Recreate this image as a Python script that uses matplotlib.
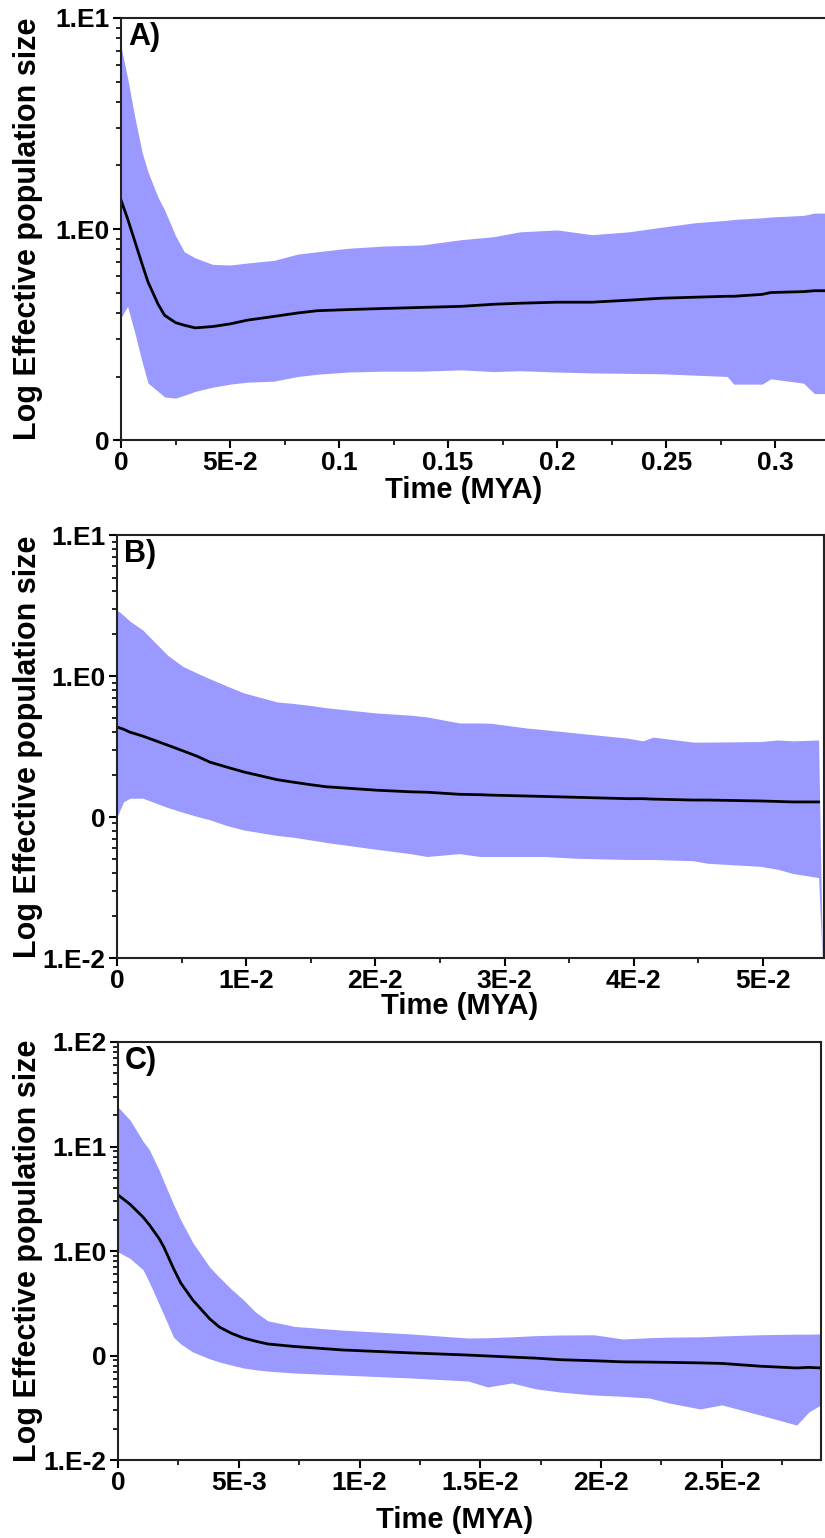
import matplotlib
matplotlib.use("Agg")
import matplotlib.pyplot as plt
from matplotlib.ticker import FixedLocator, LogLocator, NullFormatter

plt.rcParams['font.family'] = ['Liberation Sans', 'DejaVu Sans']
plt.rcParams['font.weight'] = 'bold'

# ---- panel A ----
time_a = [0, 0.003, 0.0064, 0.0097, 0.0124, 0.017, 0.02, 0.025, 0.029, 0.034,
          0.042, 0.05, 0.058, 0.07, 0.081, 0.09, 0.104, 0.12, 0.138, 0.156,
          0.171, 0.183, 0.2, 0.216, 0.233, 0.248, 0.263, 0.278, 0.281, 0.294,
          0.298, 0.313, 0.318, 0.3235]
median_a = [1.37, 1.12, 0.87, 0.68, 0.56, 0.44, 0.39, 0.36, 0.35, 0.34,
            0.345, 0.355, 0.37, 0.385, 0.40, 0.41, 0.415, 0.42, 0.425, 0.43,
            0.44, 0.445, 0.45, 0.45, 0.46, 0.47, 0.475, 0.48, 0.48, 0.49,
            0.50, 0.505, 0.51, 0.51]
upper_a = [7.3, 5.2, 3.36, 2.3, 1.86, 1.41, 1.23, 0.93, 0.78, 0.73,
           0.68, 0.675, 0.69, 0.71, 0.76, 0.78, 0.81, 0.83, 0.84, 0.89,
           0.92, 0.97, 0.99, 0.94, 0.97, 1.02, 1.07, 1.10, 1.11, 1.13,
           1.14, 1.16, 1.19, 1.19]
lower_a = [0.38, 0.43, 0.32, 0.234, 0.186, 0.17, 0.16, 0.158, 0.163, 0.17,
           0.178, 0.184, 0.188, 0.19, 0.20, 0.205, 0.21, 0.212, 0.212, 0.215,
           0.211, 0.213, 0.21, 0.208, 0.207, 0.206, 0.203, 0.20, 0.184, 0.184,
           0.195, 0.186, 0.166, 0.166]

# ---- panel B ----
time_b = [0, 0.0005, 0.001, 0.002, 0.0039, 0.0051, 0.0062, 0.0072, 0.0085, 0.0098,
          0.0124, 0.0136, 0.0149, 0.0162, 0.0201, 0.0227, 0.024, 0.0265, 0.0281, 0.029,
          0.0317, 0.033, 0.0356, 0.0395, 0.0407, 0.0415, 0.0446, 0.0457, 0.0498, 0.0511,
          0.0523, 0.0543, 0.0546]
median_b = [0.435, 0.42, 0.40, 0.375, 0.324, 0.295, 0.27, 0.245, 0.226, 0.209,
            0.184, 0.177, 0.17, 0.164, 0.155, 0.151, 0.15, 0.145, 0.144, 0.143,
            0.141, 0.14, 0.138, 0.135, 0.135, 0.134, 0.132, 0.132, 0.13, 0.129,
            0.128, 0.128, 0.128]
upper_b = [2.94, 2.7, 2.45, 2.12, 1.41, 1.17, 1.05, 0.955, 0.85, 0.76,
           0.655, 0.64, 0.62, 0.596, 0.547, 0.528, 0.513, 0.465, 0.465, 0.462,
           0.428, 0.417, 0.394, 0.363, 0.347, 0.369, 0.34, 0.34, 0.343, 0.352,
           0.347, 0.352, 0.009]
lower_b = [0.1, 0.128, 0.136, 0.136, 0.117, 0.108, 0.101, 0.0955, 0.087, 0.081,
           0.074, 0.072, 0.069, 0.066, 0.059, 0.055, 0.0525, 0.055, 0.0525, 0.0525,
           0.0525, 0.0525, 0.051, 0.050, 0.050, 0.050, 0.049, 0.047, 0.0447, 0.0427,
           0.0398, 0.0372, 0.009]

# ---- panel C ----
time_c = [0, 0.0005, 0.00104, 0.0013, 0.0017, 0.0019, 0.0023, 0.0026, 0.0031, 0.0038,
          0.0042, 0.0047, 0.0052, 0.0057, 0.0062, 0.0073, 0.0093, 0.0121, 0.0145, 0.0153,
          0.0163, 0.0173, 0.0183, 0.0197, 0.0209, 0.022, 0.0228, 0.0241, 0.025, 0.0266,
          0.0281, 0.0286, 0.0291]
median_c = [3.44, 2.8, 2.11, 1.78, 1.32, 1.09, 0.68, 0.494, 0.339, 0.224,
            0.187, 0.163, 0.147, 0.137, 0.129, 0.122, 0.113, 0.106, 0.101, 0.099,
            0.0966, 0.0944, 0.0912, 0.0891, 0.087, 0.0865, 0.086, 0.085, 0.084, 0.079,
            0.076, 0.077, 0.076]
upper_c = [23.9, 17.9, 11.2, 9.3, 5.96, 4.6, 2.8, 1.98, 1.2, 0.70,
           0.56, 0.43, 0.34, 0.26, 0.215, 0.19, 0.175, 0.161, 0.147, 0.148,
           0.151, 0.155, 0.157, 0.158, 0.144, 0.148, 0.150, 0.151, 0.154, 0.158,
           0.16, 0.16, 0.161]
lower_c = [0.98, 0.85, 0.66, 0.5, 0.31, 0.245, 0.15, 0.129, 0.108, 0.093,
           0.0867, 0.081, 0.076, 0.073, 0.071, 0.068, 0.065, 0.061, 0.057, 0.050,
           0.0546, 0.048, 0.0447, 0.0419, 0.0407, 0.0392, 0.0352, 0.0308, 0.0337, 0.0269,
           0.0216, 0.0288, 0.0337]

panel_letters = ['A)', 'B)', 'C)']
x_ticks = [[0, 0.05, 0.1, 0.15, 0.2, 0.25, 0.3],
           [0, 0.01, 0.02, 0.03, 0.04, 0.05],
           [0, 0.005, 0.01, 0.015, 0.02, 0.025]]
x_labels = [['0', '5E-2', '0.1', '0.15', '0.2', '0.25', '0.3'],
            ['0', '1E-2', '2E-2', '3E-2', '4E-2', '5E-2'],
            ['0', '5E-3', '1E-2', '1.5E-2', '2E-2', '2.5E-2']]
y_ticks = [[0.1, 1, 10], [0.01, 0.1, 1, 10], [0.01, 0.1, 1, 10, 100]]
y_labels = [['0', '1.E0', '1.E1'], ['1.E-2', '0', '1.E0', '1.E1'],
            ['1.E-2', '0', '1.E0', '1.E1', '1.E2']]
x_limits = [0.3235, 0.05472, 0.0291]
y_limits = [(0.1, 10), (0.01, 10), (0.01, 100)]

fill_color = '#9999ff'

fig = plt.figure(figsize=(8.25, 15.38), dpi=100)
rects = [[0.1467, 0.7139, 0.855, 0.2744],
         [0.1418, 0.3771, 0.857, 0.2750],
         [0.1430, 0.0507, 0.852, 0.2718]]
# label anchors in axes fraction (x of xlabel, y of xlabel, x of ylabel)
xlabel_pos = [(0.485, -0.085), (0.485, -0.08), (0.479, -0.11)]
ylabel_x = [-0.111, -0.105, -0.107]

series = [(time_a, median_a, upper_a, lower_a),
          (time_b, median_b, upper_b, lower_b),
          (time_c, median_c, upper_c, lower_c)]

for i, (t, med, up, lo) in enumerate(series):
    ax = fig.add_axes(rects[i])
    ax.set_yscale('log')
    ax.fill_between(t, lo, up, color=fill_color, linewidth=0)
    # median line stops a little before the band in B
    n = len(med) - 1 if i == 1 else len(med)
    ax.plot(t[:n], med[:n], color='black', linewidth=2)

    ax.set_xlim(0, x_limits[i])
    ax.set_ylim(*y_limits[i])

    ax.xaxis.set_major_locator(FixedLocator(x_ticks[i]))
    ax.set_xticklabels(x_labels[i])
    step = x_ticks[i][1] - x_ticks[i][0]
    minors = [x + step / 2 for x in x_ticks[i] if x + step / 2 < x_limits[i]]
    ax.xaxis.set_minor_locator(FixedLocator(minors))

    ax.yaxis.set_major_locator(FixedLocator(y_ticks[i]))
    ax.set_yticklabels(y_labels[i])
    ax.yaxis.set_minor_locator(LogLocator(base=10, subs=range(2, 10)))
    ax.yaxis.set_minor_formatter(NullFormatter())

    ax.tick_params(which='major', direction='out', length=6, width=1.5,
                   labelsize=19, pad=2)
    ax.tick_params(which='minor', direction='out', length=3.5, width=1.2)
    for s in ax.spines.values():
        s.set_linewidth(1.5)
        s.set_color('#222222')

    ax.set_xlabel('Time (MYA)', fontsize=21, fontweight='bold')
    ax.xaxis.set_label_coords(*xlabel_pos[i])
    ax.set_ylabel('Log Effective population size', fontsize=22,
                  fontweight='bold')
    ax.yaxis.set_label_coords(ylabel_x[i], 0.5)
    ax.text(0.01, 0.99, panel_letters[i], transform=ax.transAxes,
            fontsize=22, fontweight='bold', va='top', ha='left')

fig.savefig('out.png', dpi=100)
